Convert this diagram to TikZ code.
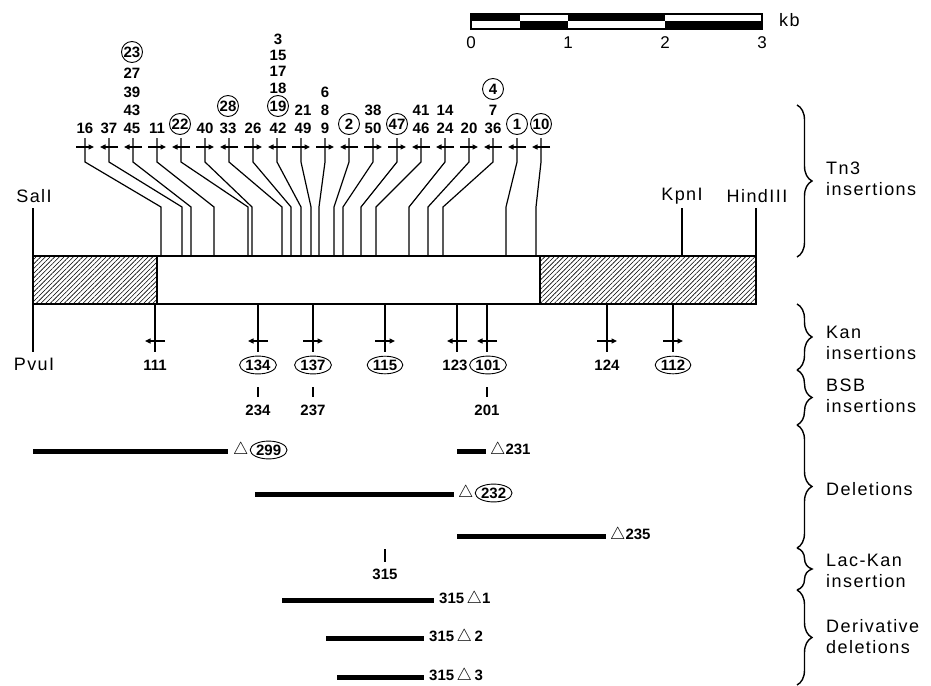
\documentclass[tikz,border=0pt]{standalone}
\usepackage{fontspec}
\setmainfont{Liberation Sans}
\newfontfamily\widefont[LetterSpace=8]{Liberation Sans}
\usetikzlibrary{arrows.meta,positioning,shapes.geometric,patterns.meta,decorations.pathreplacing}
\newcommand\tri{{\fontsize{18.5}{19}\selectfont$\triangle$}}

\begin{document}
\begin{tikzpicture}[
  x=1pt,
  y=-1pt,
  num/.style={font=\fontsize{15}{16}\selectfont\bfseries,inner sep=0pt},
  circ/.style={num,circle,draw,line width=0.9pt,minimum size=21pt,inner sep=0pt},
  oval/.style={num,ellipse,draw,line width=0.9pt,inner xsep=0.5pt,inner ysep=1pt},
  lab/.style={font=\widefont\fontsize{18}{21}\selectfont,inner sep=0pt},
  side/.style={lab,anchor=west,align=left},
  map/.style={line width=1.8pt},
  ins/.style={line width=1.2pt},
  fwd/.style={-{Triangle[length=5.5pt,width=5pt]}},
  del/.style={line width=5pt},
  grp/.style={decorate,decoration={brace,amplitude=15pt},line width=1.4pt}
]
\useasboundingbox (0,0) rectangle (931,685);

% scale bar
\draw[line width=1.5pt] (471,14) rectangle (762,29);
\fill (471,14) rectangle (520,21.5);
\fill (568,14) rectangle (665,21.5);
\fill (520,21.5) rectangle (568,29);
\fill (665,21.5) rectangle (762,29);
\foreach \x/\k in {471/0,568/1,665/2,762/3}
  \node[font=\fontsize{17}{18}\selectfont,inner sep=0pt] (kb\k) at (\x,43) {\k};
\node[lab,anchor=west] (kb) at (779,20) {kb};

% map
\path[pattern={Lines[angle=45,distance=3.3pt,line width=0.6pt]}] (33,256) rectangle (157,304);
\path[pattern={Lines[angle=45,distance=3.3pt,line width=0.6pt]}] (540,256) rectangle (756,304);
\draw[map] (33,256) rectangle (756,304);
\draw[map] (157,256) -- (157,304);
\draw[map] (540,256) -- (540,304);

% restriction sites
\node[lab] (sal) at (34,196) {SalI};
\node[lab] (kpn) at (682,196) {KpnI};
\node[lab] (hind) at (757,196) {HindIII};
\node[lab] (pvu) at (34,364) {PvuI};
\draw[ins] (33,208) -- (33,256);
\draw[ins] (682,208) -- (682,256);
\draw[ins] (756,208) -- (756,256);
\draw[ins] (33,304) -- (33,352);

% Tn3 insertions
\foreach \n/\b/\d in {0/161/1,1/182/-1,2/191/-1,3/214/1,4/248/-1,5/252/1,6/282/-1,7/291/1,8/301/-1,9/311/1,
                      10/319/1,11/334/-1,12/343/1,13/361/1,14/376/-1,15/409/-1,16/428/1,17/443/-1,18/506/-1,19/536/-1} {
  \pgfmathsetmacro\tx{85+24*\n}
  \pgfmathsetmacro\xa{\tx-9*(\d)}
  \pgfmathsetmacro\xb{\tx+9*(\d)}
  \coordinate (c\n) at (\tx,147);
  \coordinate (f\n) at (\b,256);
  \draw[ins] (\tx,138) -- (\tx,162) -- (\b,207) -- (f\n);
  \draw[ins,fwd] (\xa,147) -- (\xb,147);
}
\foreach \x/\y/\lbl/\sty in {85/128/16/num,109/128/37/num,132/128/45/num,157/128/11/num,180/124/22/circ,
    205/128/40/num,228/128/33/num,253/128/26/num,278/128/42/num,303/128/49/num,325/128/9/num,
    349/124/2/circ,373/128/50/num,397/124/47/circ,421/128/46/num,445/128/24/num,469/128/20/num,
    493/128/36/num,517/124/1/circ,541/124/10/circ,
    132/110/43/num,132/92/39/num,132/73/27/num,132/52/23/circ,228/106/28/circ,
    278/106/19/circ,278/88/18/num,278/71/17/num,278/55/15/num,278/39/3/num,303/110/21/num,
    325/110/8/num,325/92/6/num,373/110/38/num,421/110/41/num,445/110/14/num,493/110/7/num,493/89/4/circ}
  \node[\sty] (i\lbl) at (\x,\y) {\lbl};

% Kan insertions
\foreach \x/\d in {155/-1,258/-1,313/1,385/1,457/-1,487/-1,607/1,673/1} {
  \pgfmathsetmacro\xa{\x-10*(\d)}
  \pgfmathsetmacro\xb{\x+10*(\d)}
  \draw[ins] (\x,304) -- (\x,352);
  \draw[ins,fwd] (\xa,341) -- (\xb,341);
}
\foreach \x/\lbl/\sty in {155/111/num,258/134/oval,313/137/oval,385/115/oval,455/123/num,488/101/oval,607/124/num,673/112/oval}
  \node[\sty] (k\lbl) at (\x,365) {\lbl};

% BSB insertions
\foreach \x/\lbl in {258/234,313/237,487/201} {
  \draw[ins] (\x,387) -- (\x,397);
  \node[num] (b\lbl) at (\x,410) {\lbl};
}

% deletions
\draw[del] (33,451) -- (228,451);
\node[num,anchor=west] (t299) at (233,450) {\tri};
\node[oval,right=1pt of t299] (d299) {299};
\draw[del] (457,451) -- (486,451);
\node[num,anchor=west] (d231) at (490,450) {\tri231};
\draw[del] (255,494) -- (454,494);
\node[num,anchor=west] (t232) at (458,493) {\tri};
\node[oval,right=1pt of t232] (d232) {232};
\draw[del] (457,536) -- (606,536);
\node[num,anchor=west] (d235) at (610,535) {\tri235};

% Lac-Kan insertion and derivatives
\draw[ins] (385,549) -- (385,562);
\node[num] (l315) at (385,574) {315};
\draw[del] (282,600) -- (434,600);
\node[num,anchor=west] (r1) at (439,599) {315\,\tri1};
\draw[del] (326,638) -- (424,638);
\node[num,anchor=west] (r2) at (429,637) {315\,\tri\,2};
\draw[del] (337,677) -- (424,677);
\node[num,anchor=west] (r3) at (429,676) {315\,\tri\,3};

% groups
\draw[grp] (797,105) -- (797,257);
\draw[grp] (797,304) -- (797,370);
\draw[grp] (797,370) -- (797,425);
\draw[grp] (797,425) -- (797,548);
\draw[grp] (797,548) -- (797,590);
\draw[grp] (797,590) -- (797,685);
\node[side] (gtn) at (826,179) {Tn3\\insertions};
\node[side] (gkan) at (826,343) {Kan\\insertions};
\node[side] (gbsb) at (826,396) {BSB\\insertions};
\node[side] (gdel) at (826,489) {Deletions};
\node[side] (glac) at (826,571) {Lac-Kan\\insertion};
\node[side] (gder) at (826,637) {Derivative\\deletions};
\end{tikzpicture}
\end{document}
